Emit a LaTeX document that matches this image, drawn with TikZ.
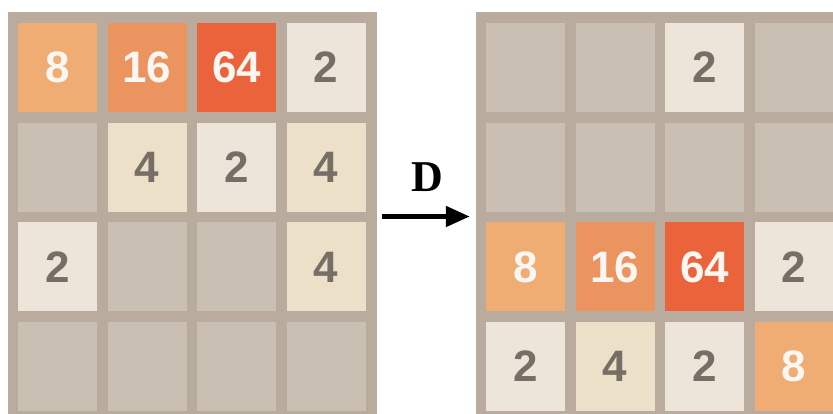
\documentclass[tikz,border=0pt]{standalone}
\usepackage{fontspec}
\usepackage{xcolor}
\usetikzlibrary{arrows.meta,positioning}
\newfontfamily\tilefont{Liberation Sans}
\newfontfamily\movefont{Liberation Serif}
\definecolor{BoardBg}{HTML}{B9AC9F}
\definecolor{tile0}{HTML}{C9BFB3}
\definecolor{tile2}{HTML}{EDE4DA}
\definecolor{tile4}{HTML}{ECE0C8}
\definecolor{tile8}{HTML}{EFAD74}
\definecolor{tile16}{HTML}{EC9460}
\definecolor{tile64}{HTML}{EA633B}
\definecolor{txt0}{HTML}{776E65}
\definecolor{txt2}{HTML}{776E65}
\definecolor{txt4}{HTML}{776E65}
\definecolor{txt8}{HTML}{FAF6F1}
\definecolor{txt16}{HTML}{FAF6F1}
\definecolor{txt64}{HTML}{FAF6F1}
\newcommand\tilenum[1]{\ifnum#1>0 #1\fi}

\begin{document}
\begin{tikzpicture}[x=1pt, y=-1pt, >=Stealth,
    board/.style={fill=BoardBg, minimum width=369pt, minimum height=409pt, inner sep=0pt},
    tile/.style={fill=tile#1, text=txt#1, minimum width=79pt, minimum height=89pt, inner sep=0pt,
        font=\tilefont\bfseries\fontsize{44}{44}\selectfont},
    movearrow/.style={-{Triangle[length=24pt,width=20pt]}, line width=5pt, black},
    movelabel/.style={font=\movefont\bfseries\fontsize{44}{44}\selectfont, black}]
    \useasboundingbox (0,0) rectangle (833,414);
    \clip (0,0) rectangle (833,414);

    % Boards
    \node[board] (lboard) at (192.5,216.5) {};
    \node[board] (rboard) at (660.5,216.5) {};

    % Left board: before the move
    \foreach \row [count=\r] in {{8,16,64,2},{0,4,2,4},{2,0,0,4},{0,0,0,0}}
        \foreach \v [count=\c] in \row
            \node[tile=\v] (L-\r-\c) at ({57.5+89.5*(\c-1)},{67.5+99.7*(\r-1)}) {\tilenum{\v}};

    % Right board: after the move
    \foreach \row [count=\r] in {{0,0,2,0},{0,0,0,0},{8,16,64,2},{2,4,2,8}}
        \foreach \v [count=\c] in \row
            \node[tile=\v] (R-\r-\c) at ({525.5+89.5*(\c-1)},{67.5+99.7*(\r-1)}) {\tilenum{\v}};

    % Move arrow
    \draw[movearrow] ([xshift=5pt]lboard.east) -- ([xshift=-6pt]rboard.west);
    \node[movelabel] (dlabel) at (427,177) {D};

\end{tikzpicture}
\end{document}
